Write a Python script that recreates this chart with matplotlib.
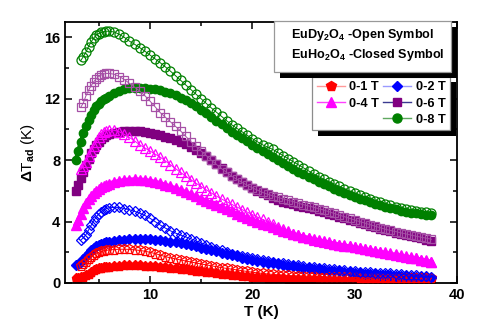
import matplotlib
matplotlib.use('Agg')
import matplotlib.pyplot as plt
from matplotlib.lines import Line2D
from matplotlib.patches import Rectangle
from matplotlib.ticker import MultipleLocator
from matplotlib.transforms import IdentityTransform

# temperatures (K)
T_open = [3.25, 3.5, 3.75, 4.0, 4.25, 4.5, 4.75, 5.0, 5.25, 5.5, 5.75, 6.0,
          6.5, 7.0, 7.5, 8.0, 8.5, 9.0, 9.5, 10.0,
          10.5, 11.0, 11.5, 12.0, 12.5, 13.0, 13.5, 14.0,
          14.5, 15.0, 15.5, 16.0, 16.5, 17.0, 17.5, 18.0,
          18.5, 19.0, 19.5, 20.0, 20.5, 21.0, 21.5, 22.0,
          22.5, 23.0, 23.5, 24.0, 24.5, 25.0, 25.5, 26.0,
          26.5, 27.0, 27.5, 28.0, 28.5, 29.0, 29.5, 30.0,
          30.5, 31.0, 31.5, 32.0, 32.5, 33.0, 33.5, 34.0,
          34.5, 35.0, 35.5, 36.0, 36.5, 37.0, 37.5]
T_closed = [2.75, 3.0] + T_open

# EuDy2O4 (open symbols)
dy_1T = [1.1, 1.25, 1.38, 1.55, 1.7, 1.83, 1.93, 2.0, 2.06, 2.1, 2.13, 2.15,
         2.18, 2.2, 2.2, 2.19, 2.16, 2.12, 2.07, 2.0,
         1.92, 1.82, 1.72, 1.64, 1.57, 1.5, 1.43, 1.37,
         1.3, 1.24, 1.18, 1.12, 1.06, 1.0, 0.95, 0.9,
         0.85, 0.8, 0.75, 0.7, 0.66, 0.62, 0.59, 0.56,
         0.53, 0.51, 0.49, 0.47, 0.46, 0.45, 0.44, 0.43,
         0.42, 0.41, 0.4, 0.39, 0.38, 0.37, 0.37, 0.36,
         0.35, 0.35, 0.34, 0.34, 0.33, 0.33, 0.32, 0.32,
         0.31, 0.31, 0.31, 0.3, 0.3, 0.3, 0.3]
dy_2T = [2.8, 2.95, 3.15, 3.45, 3.75, 4.05, 4.3, 4.5, 4.65, 4.77, 4.85, 4.9,
         4.93, 4.92, 4.85, 4.77, 4.67, 4.55, 4.4, 4.22,
         4.0, 3.78, 3.58, 3.4, 3.25, 3.12, 3.0, 2.88,
         2.75, 2.62, 2.49, 2.36, 2.24, 2.12, 2.01, 1.91,
         1.82, 1.74, 1.67, 1.6, 1.54, 1.48, 1.43, 1.38,
         1.33, 1.28, 1.23, 1.18, 1.14, 1.1, 1.06, 1.02,
         0.98, 0.95, 0.91, 0.88, 0.85, 0.82, 0.79, 0.76,
         0.74, 0.72, 0.7, 0.68, 0.66, 0.64, 0.62, 0.6,
         0.57, 0.54, 0.51, 0.49, 0.46, 0.44, 0.42]
dy_4T = [7.4, 7.6, 7.9, 8.25, 8.6, 8.9, 9.2, 9.5, 9.72, 9.85, 9.92, 9.95,
         9.95, 9.85, 9.68, 9.48, 9.25, 9.0, 8.8, 8.6,
         8.4, 8.2, 7.95, 7.7, 7.45, 7.2, 6.95, 6.72,
         6.5, 6.28, 6.07, 5.86, 5.66, 5.47, 5.3, 5.12,
         4.95, 4.78, 4.62, 4.46, 4.3, 4.14, 3.98, 3.82,
         3.66, 3.5, 3.36, 3.22, 3.1, 3.0, 2.9, 2.82,
         2.75, 2.68, 2.62, 2.56, 2.5, 2.45, 2.4, 2.35,
         2.29, 2.23, 2.17, 2.11, 2.05, 1.99, 1.93, 1.87,
         1.81, 1.74, 1.67, 1.6, 1.53, 1.47, 1.4]
dy_6T = [11.45, 11.75, 12.2, 12.55, 12.85, 13.1, 13.3, 13.45, 13.55, 13.62, 13.65, 13.65,
         13.6, 13.45, 13.25, 13.0, 12.75, 12.5, 12.2, 11.85,
         11.48, 11.1, 10.8, 10.5, 10.2, 9.9, 9.55, 9.2,
         8.9, 8.6, 8.3, 8.0, 7.72, 7.45, 7.2, 6.95,
         6.75, 6.55, 6.37, 6.2, 6.05, 5.9, 5.78, 5.68,
         5.58, 5.48, 5.39, 5.3, 5.2, 5.1, 5.02, 4.93,
         4.84, 4.75, 4.64, 4.53, 4.42, 4.32, 4.21, 4.1,
         4.0, 3.9, 3.8, 3.7, 3.6, 3.5, 3.42, 3.35,
         3.27, 3.2, 3.12, 3.05, 2.98, 2.92, 2.85]
dy_8T = [14.5, 14.75, 15.05, 15.4, 15.7, 15.95, 16.15, 16.25, 16.32, 16.37, 16.4, 16.4,
         16.35, 16.2, 16.0, 15.75, 15.55, 15.33, 15.1, 14.85,
         14.6, 14.35, 14.08, 13.8, 13.5, 13.2, 12.9, 12.6,
         12.3, 12.0, 11.7, 11.4, 11.12, 10.85, 10.57, 10.3,
         10.07, 9.85, 9.62, 9.4, 9.2, 9.0, 8.85, 8.7,
         8.5, 8.3, 8.1, 7.9, 7.7, 7.5, 7.3, 7.1,
         6.93, 6.77, 6.6, 6.45, 6.3, 6.15, 6.0, 5.85,
         5.72, 5.6, 5.47, 5.35, 5.25, 5.15, 5.05, 4.95,
         4.88, 4.82, 4.76, 4.7, 4.65, 4.6, 4.55]

# EuHo2O4 (closed symbols)
ho_1T = [0.32, 0.34, 0.37, 0.42, 0.5, 0.6, 0.72, 0.83, 0.9, 0.96, 1.0, 1.03, 1.05, 1.07,
         1.1, 1.12, 1.14, 1.16, 1.16, 1.15, 1.13, 1.11,
         1.08, 1.05, 1.02, 0.99, 0.95, 0.92, 0.88, 0.85,
         0.81, 0.77, 0.73, 0.69, 0.65, 0.6, 0.56, 0.53,
         0.5, 0.47, 0.44, 0.41, 0.39, 0.37, 0.35, 0.33,
         0.31, 0.3, 0.29, 0.28, 0.27, 0.26, 0.25, 0.24,
         0.23, 0.22, 0.22, 0.21, 0.21, 0.2, 0.2, 0.19,
         0.19, 0.18, 0.18, 0.17, 0.17, 0.16, 0.16, 0.15,
         0.15, 0.14, 0.14, 0.13, 0.12, 0.11, 0.1]
ho_2T = [1.2, 1.25, 1.35, 1.55, 1.75, 1.95, 2.12, 2.26, 2.38, 2.48, 2.56, 2.62, 2.66, 2.69,
         2.74, 2.79, 2.83, 2.86, 2.87, 2.87, 2.86, 2.84,
         2.82, 2.79, 2.75, 2.7, 2.64, 2.58, 2.52, 2.46,
         2.38, 2.3, 2.22, 2.14, 2.06, 1.98, 1.9, 1.82,
         1.74, 1.66, 1.58, 1.5, 1.44, 1.38, 1.33, 1.28,
         1.23, 1.18, 1.13, 1.08, 1.04, 1.0, 0.96, 0.92,
         0.88, 0.84, 0.81, 0.78, 0.75, 0.72, 0.69, 0.66,
         0.64, 0.61, 0.59, 0.57, 0.54, 0.52, 0.5, 0.48,
         0.46, 0.44, 0.42, 0.4, 0.38, 0.36, 0.34]
ho_4T = [3.75, 4.1, 4.5, 4.9, 5.2, 5.45, 5.67, 5.85, 6.0, 6.12, 6.23, 6.33, 6.41, 6.48,
         6.58, 6.65, 6.7, 6.74, 6.75, 6.74, 6.71, 6.66,
         6.59, 6.5, 6.4, 6.29, 6.17, 6.05, 5.92, 5.78,
         5.64, 5.5, 5.36, 5.22, 5.08, 4.94, 4.8, 4.66,
         4.52, 4.39, 4.26, 4.13, 4.0, 3.87, 3.75, 3.63,
         3.51, 3.4, 3.3, 3.2, 3.11, 3.02, 2.94, 2.86,
         2.78, 2.71, 2.64, 2.57, 2.5, 2.44, 2.38, 2.32,
         2.26, 2.2, 2.14, 2.08, 2.02, 1.96, 1.9, 1.84,
         1.78, 1.72, 1.66, 1.6, 1.53, 1.46, 1.38]
ho_6T = [6.0, 6.4, 6.85, 7.25, 7.7, 8.1, 8.45, 8.75, 9.0, 9.2, 9.38, 9.52, 9.63, 9.72,
         9.8, 9.86, 9.9, 9.92, 9.92, 9.9, 9.86, 9.8,
         9.72, 9.63, 9.53, 9.42, 9.3, 9.17, 9.03, 8.88,
         8.68, 8.47, 8.25, 8.0, 7.75, 7.48, 7.23, 7.0,
         6.8, 6.6, 6.4, 6.2, 6.02, 5.85, 5.7, 5.55,
         5.42, 5.3, 5.2, 5.12, 5.03, 4.95, 4.87, 4.8,
         4.71, 4.62, 4.52, 4.42, 4.32, 4.22, 4.12, 4.02,
         3.92, 3.82, 3.72, 3.62, 3.53, 3.44, 3.36, 3.28,
         3.2, 3.12, 3.05, 2.98, 2.91, 2.83, 2.75]
ho_8T = [8.0, 8.6, 9.2, 9.75, 10.2, 10.6, 10.95, 11.25, 11.5, 11.68, 11.83, 11.96, 12.07, 12.16,
         12.35, 12.5, 12.62, 12.7, 12.73, 12.73, 12.7, 12.66,
         12.61, 12.55, 12.47, 12.38, 12.24, 12.08, 11.9, 11.7,
         11.5, 11.28, 11.05, 10.82, 10.58, 10.34, 10.1, 9.86,
         9.65, 9.43, 9.22, 9.01, 8.8, 8.6, 8.4, 8.2,
         8.0, 7.81, 7.62, 7.44, 7.26, 7.09, 6.92, 6.76,
         6.6, 6.45, 6.3, 6.15, 6.01, 5.88, 5.75, 5.62,
         5.5, 5.38, 5.27, 5.16, 5.06, 4.96, 4.87, 4.79,
         4.71, 4.64, 4.58, 4.53, 4.49, 4.46, 4.44]

labels = ['0-1 T', '0-2 T', '0-4 T', '0-6 T', '0-8 T']
colors = ['#ff0000', '#0000ff', '#ff00ff', '#800080', '#008000']
open_edge = ['#ff0000', '#0000ff', '#ff00ff', '#a650a6', '#008000']
leg_line = ['#ff9a9a', '#9a9aff', '#ff40ff', '#3a3a90', '#5fa85f']
markers = ['p', 'D', '^', 's', 'o']
msizes = [6.5, 5.0, 6.5, 5.5, 6.0]

plt.rcParams['font.family'] = ['Liberation Sans', 'DejaVu Sans']
plt.rcParams['font.weight'] = 'bold'
plt.rcParams['mathtext.fontset'] = 'custom'
plt.rcParams['mathtext.rm'] = 'Liberation Sans:bold'
plt.rcParams['mathtext.bf'] = 'Liberation Sans:bold'
plt.rcParams['mathtext.default'] = 'bf'

fig = plt.figure(figsize=(5.02, 3.27), dpi=100)
ax = fig.add_axes([65/502, 1 - 283/327, 392/502, 261/327])

closed = [ho_1T, ho_2T, ho_4T, ho_6T, ho_8T]
opened = [dy_1T, dy_2T, dy_4T, dy_6T, dy_8T]

for i in range(5):
    ax.plot(T_closed, closed[i], color=colors[i], lw=3.0, marker=markers[i],
            ms=msizes[i], mfc=colors[i], mec=colors[i], zorder=2)
for i in range(5):
    ax.plot(T_open, opened[i], color=open_edge[i], lw=0.7, marker=markers[i],
            ms=msizes[i] + 0.5, mfc='none', mec=open_edge[i], mew=0.9, zorder=3)

ax.set_xlim(1.7, 40)
ax.set_ylim(0, 17)
ax.xaxis.set_major_locator(MultipleLocator(10))
ax.xaxis.set_minor_locator(MultipleLocator(5))
ax.yaxis.set_major_locator(MultipleLocator(4))
ax.yaxis.set_minor_locator(MultipleLocator(2))
ax.tick_params(which='both', direction='in', top=True, right=True, width=1.1, labelsize=10.5)
ax.tick_params(which='major', length=5)
ax.tick_params(which='minor', length=3)
for lab in ax.get_xticklabels() + ax.get_yticklabels():
    lab.set_fontweight('bold')
for sp in ax.spines.values():
    sp.set_linewidth(1.3)
ax.set_xlabel('T (K)', fontsize=11, fontweight='bold', labelpad=2)
ax.set_ylabel(r'$\Delta$T$_{ad}$ (K)', fontsize=11, labelpad=5)

# field legend, 0-8 T alone in the right column
hs = [Line2D([0], [0], color=leg_line[i], lw=1, marker=markers[i], ms=msizes[i] + 0.5,
             mfc=colors[i], mec=colors[i]) for i in range(5)]
blank = Line2D([0], [0], lw=0, marker=None)
leg = ax.legend([hs[0], hs[2], blank, hs[1], hs[3], hs[4]],
                [labels[0], labels[2], '', labels[1], labels[3], labels[4]],
                ncol=2, loc='upper right', bbox_to_anchor=(450/502, 1 - 77/327),
                bbox_transform=fig.transFigure, fancybox=False, framealpha=1,
                edgecolor='#8c8c8c', handlelength=2.2, handletextpad=0.35,
                columnspacing=0.3, labelspacing=0.32, borderpad=0.35, borderaxespad=0,
                prop={'size': 9.2, 'weight': 'bold'})
leg.get_frame().set_linewidth(0.9)
leg.set_zorder(6)

# box with sample names
fig.add_artist(Rectangle((274/502 + 0.011, 1 - 72/327 - 0.017), 177/502, 51/327,
                         transform=fig.transFigure, fc='black', ec='none', zorder=5))
fig.add_artist(Rectangle((274/502, 1 - 72/327), 177/502, 51/327,
                         transform=fig.transFigure, fc='white', ec='#999999', lw=0.9, zorder=5.5))
fig.text(291/502, 1 - 35/327, r'EuDy$_2$O$_4$ -Open Symbol', fontsize=9.1, va='center', zorder=6)
fig.text(291/502, 1 - 55/327, r'EuHo$_2$O$_4$ -Closed Symbol', fontsize=9.1, va='center', zorder=6)

fig.canvas.draw()
bb = leg.get_frame().get_window_extent(fig.canvas.get_renderer())
ax.add_patch(Rectangle((bb.x0 + 5.5, bb.y0 - 5.5), bb.width, bb.height, transform=IdentityTransform(),
                       fc='black', ec='none', zorder=5.9, clip_on=False))

fig.savefig('out.png', dpi=100)
